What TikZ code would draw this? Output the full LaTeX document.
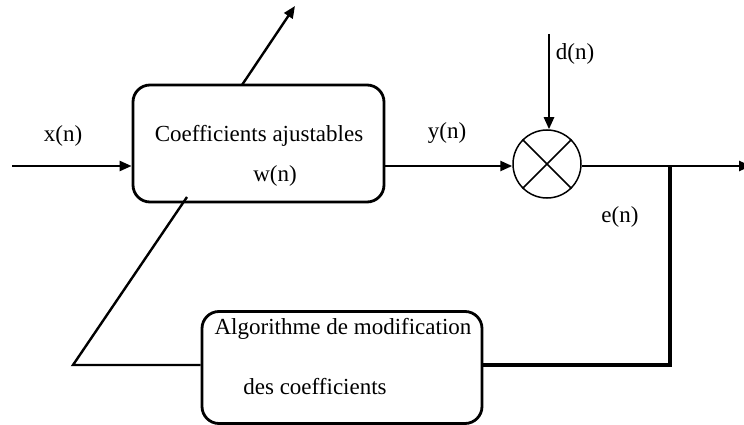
\documentclass[tikz,border=0pt]{standalone}
\usepackage{fontspec}
\setmainfont{Liberation Serif}
\usetikzlibrary{arrows.meta,calc}
\begin{document}
\begin{tikzpicture}[x=1pt,y=-1pt,
  line width=2.4pt,
  every node/.style={font=\fontsize{23}{27}\selectfont, inner sep=0pt},
  block/.style={draw, rounded corners=17pt, line width=2.8pt},
  sumnode/.style={draw, circle, line width=1.5pt, minimum size=68pt},
  label/.style={anchor=base},
  arr/.style={-{Triangle[length=12pt,width=10pt]}},
  fb/.style={line width=4pt}]
\useasboundingbox (0,0) rectangle (744,425);

% blocks
\node[block, minimum width=251pt, minimum height=117pt] (filt) at (258.5,143.5) {};
\node[block, minimum width=280pt, minimum height=112pt] (algo) at (342,367.5) {};
\node[sumnode] (sum) at (547,164) {};
\draw[line width=1.5pt] (sum.45) -- (sum.225) (sum.135) -- (sum.315);

% texts
\node[label] (t1) at (259,142) {Coefficients ajustables};
\node[label] (t2) at (275,181) {w(n)};
\node[label] (t3) at (343,334) {Algorithme de modification};
\node[label] (t4) at (315,394) {des coefficients};
\node[label] (lx) at (63,142) {x(n)};
\node[label] (ly) at (447,139) {y(n)};
\node[label] (ld) at (575,60) {d(n)};
\node[label] (le) at (620,222) {e(n)};

% named end points
\coordinate (in) at (12,166);
\coordinate (up) at (295,6);
\coordinate (upbase) at (242,85);
\coordinate (dtop) at (549,34);
\coordinate (out) at (751,166);
\coordinate (jn) at (670,166);
\coordinate (jnb) at (670,365);
\coordinate (diag) at (187,197);
\coordinate (corner) at (73,365);

% signal path
\draw[arr] (in) -- (in -| filt.west);
\draw[arr] (filt.east |- jn) -- (sum.west |- jn);
\draw[arr] (dtop) -- (dtop |- sum.north);
\draw[arr] (upbase) -- (up);
\draw (sum.east |- jn) -- (jn);
\draw[arr] (jn) -- (out);

% feedback path
\draw[fb, line join=miter] (jn) -- (jnb) -- (jnb -| algo.east);
\draw[line join=miter] (diag) -- (corner) -- (corner -| algo.west);
\end{tikzpicture}
\end{document}
